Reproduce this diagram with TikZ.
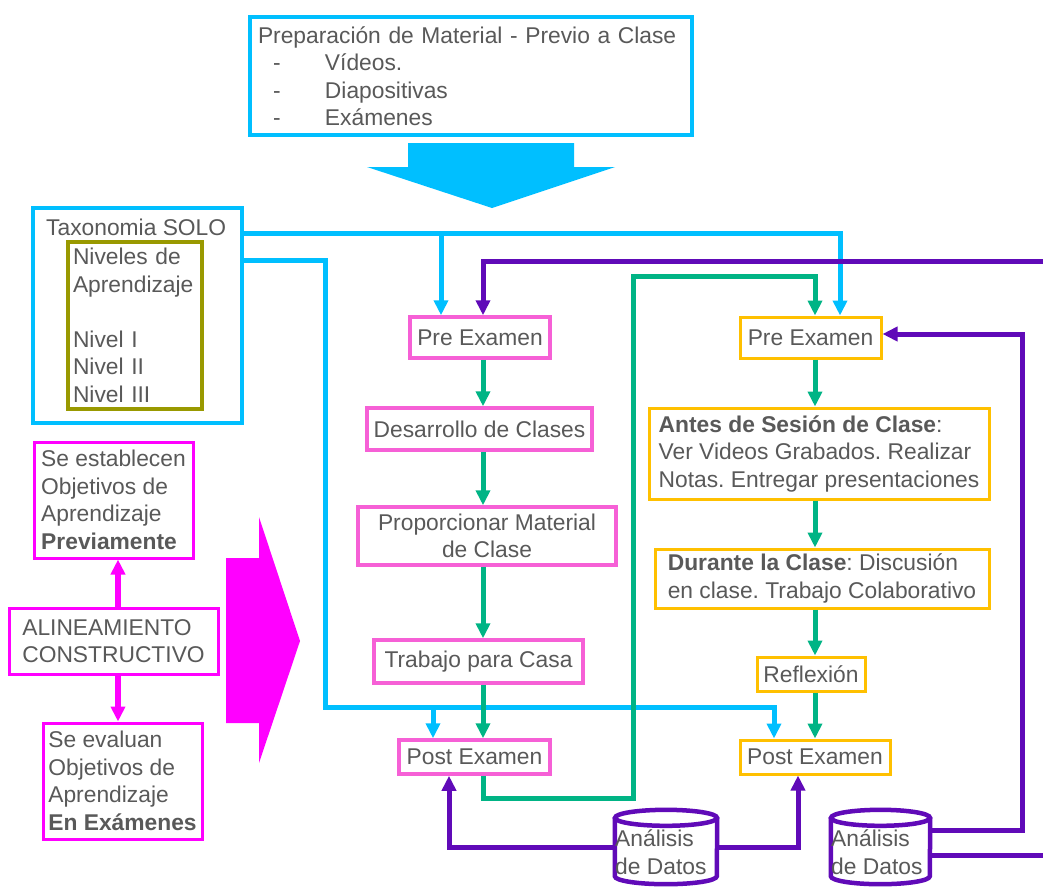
\documentclass[tikz,border=0pt]{standalone}
\usepackage{fontspec}
\setmainfont{Liberation Sans}
\usetikzlibrary{arrows.meta}
\definecolor{cy}{RGB}{0,191,255}
\definecolor{gr}{RGB}{0,180,133}
\definecolor{pu}{RGB}{96,10,184}
\definecolor{pk}{RGB}{246,96,214}
\definecolor{mg}{RGB}{255,0,255}
\definecolor{og}{RGB}{255,192,0}
\definecolor{ol}{RGB}{153,153,0}
\definecolor{tx}{RGB}{89,89,89}
\begin{document}
\frenchspacing
\begin{tikzpicture}[x=1pt,y=-1pt,
  txt/.style={font=\fontsize{22.8}{27.5}\selectfont, text=tx},
  box/.style={txt, draw, inner sep=0pt, line width=3.5pt, fill=white},
  cybox/.style={box, draw=cy, line width=4.5pt},
  pkbox/.style={box, draw=pk},
  ogbox/.style={box, draw=og, line width=3pt},
  mgbox/.style={box, draw=mg, line width=3pt},
  olbox/.style={box, draw=ol, line width=4pt},
  tip/.style={-{Triangle[width=14pt,length=15pt]}},
  cyline/.style={draw=cy, line width=5pt},
  grline/.style={draw=gr, line width=5pt},
  puline/.style={draw=pu, line width=5pt},
  cyarr/.style={cyline, tip},
  grarr/.style={grline, tip},
  puarr/.style={puline, tip},
  mgarr/.style={draw=mg, line width=6pt, tip},
  cylnode/.style={minimum width=#1, minimum height=74, inner sep=0pt}
]
\fill[white] (0,0) rectangle (1043,887);
\useasboundingbox (0,0) rectangle (1043,887);

% top box and arrow
\node[cybox, minimum width=442, minimum height=118, text width=426, align=left] (prep) at (471,76)
  {Preparación de Material - Previo a Clase\\
   \hspace*{15pt}\makebox[52pt][l]{-}Vídeos.\\
   \hspace*{15pt}\makebox[52pt][l]{-}Diapositivas\\
   \hspace*{15pt}\makebox[52pt][l]{-}Exámenes};
\fill[cy] (408,143) -- (574,143) -- (574,167) -- (615,167) -- (492,208) -- (367,167) -- (408,167) -- cycle;

% taxonomia
\node[cybox, minimum width=209, minimum height=215] (tax) at (137.5,315.5) {};
\node[txt, anchor=west, inner sep=0pt] (taxt) at (46,227) {Taxonomia SOLO};
\node[olbox, minimum width=134, minimum height=167, text width=124, align=left] (niv) at (135,325.5)
  {Niveles de\\Aprendizaje\\[27.5pt]Nivel I\\Nivel II\\Nivel III};

% left pink column
\node[pkbox, minimum width=140, minimum height=41] (preL) at (480,337.5) {Pre Examen};
\node[pkbox, minimum width=225, minimum height=42] (desa) at (479.5,429) {Desarrollo de Clases};
\node[pkbox, minimum width=258, minimum height=58, align=center] (prop) at (487,536) {Proporcionar Material\\de Clase};
\node[pkbox, minimum width=209, minimum height=43] (trab) at (478.5,661.5) {Trabajo para Casa};
\node[pkbox, minimum width=151, minimum height=34] (postL) at (474.5,757) {Post Examen};

% right orange column
\node[ogbox, minimum width=141, minimum height=41] (preR) at (810.5,337.5) {Pre Examen};
\node[ogbox, minimum width=340, minimum height=91, align=left] (antes) at (819,453.5)
  {\textbf{Antes de Sesión de Clase}:\\Ver Videos Grabados. Realizar\\Notas. Entregar presentaciones};
\node[ogbox, minimum width=334, minimum height=59, align=left] (dur) at (822,578.5)
  {\textbf{Durante la Clase}: Discusión\\en clase. Trabajo Colaborativo};
\node[ogbox, minimum width=108, minimum height=34] (refl) at (811,674) {Reflexión};
\node[ogbox, minimum width=150, minimum height=34] (postR) at (815,757) {Post Examen};

% magenta left
\node[mgbox, minimum width=159, minimum height=116, align=left] (estab) at (113.5,500)
  {Se establecen\\Objetivos de\\Aprendizaje\\\textbf{Previamente}};
\node[mgbox, minimum width=209, minimum height=66, align=left] (alin) at (113.5,641)
  {ALINEAMIENTO\\CONSTRUCTIVO};
\node[mgbox, minimum width=159, minimum height=116, align=left] (eval) at (122.5,781)
  {Se evaluan\\Objetivos de\\Aprendizaje\\\textbf{En Exámenes}};
\draw[mgarr] ([xshift=4.5pt]alin.north) -- ([xshift=4.5pt]estab.south);
\draw[mgarr] ([xshift=4.5pt]alin.south) -- ([xshift=-4.5pt]eval.north);
\fill[mg] (226,558) -- (259,558) -- (259,517) -- (300,641) -- (259,763) -- (259,723) -- (226,723) -- cycle;

% cylinders
\node[cylnode=102] (an1) at (666,847) {};
\node[cylnode=99] (an2) at (880.5,847) {};
\foreach \c/\rx in {an1/51, an2/49.5}{
  \draw[pu, line width=4.5pt] ([yshift=-8pt]\c.north west) -- ([yshift=8pt]\c.south west)
     arc[start angle=180, end angle=360, x radius=\rx pt, y radius=8pt] -- ([yshift=-8pt]\c.north east);
  \draw[pu, line width=4.5pt] ([yshift=-8pt]\c.north) ellipse[x radius=\rx pt, y radius=8pt];
}
\node[txt, anchor=west, align=left, inner sep=0pt] (an1t) at (615,852) {Análisis\\de Datos};
\node[txt, anchor=west, align=left, inner sep=0pt] (an2t) at (831,852) {Análisis\\de Datos};

% cyan connectors
\coordinate (c1) at (441,233);
\coordinate (c2) at (325,260);
\coordinate (c3) at (325,707);
\coordinate (c4) at (433,707);
\draw[cyarr] (tax.east |- c1) -| ([xshift=29.5pt]preR.north);
\draw[cyarr] (c1) -- (c1 |- preL.north);
\draw[cyarr] (tax.east |- c2) -- (c2) -- (c3) -| ([xshift=-41pt]postR.north);
\draw[cyarr] (c4) -- (c4 |- postL.north);

% green connectors
\coordinate (gL) at (483,0);
\coordinate (gR) at (815,0);
\draw[grarr] (gL |- preL.south) -- (gL |- desa.north);
\draw[grarr] (gL |- desa.south) -- (gL |- prop.north);
\draw[grarr] (gL |- prop.south) -- (gL |- trab.north);
\draw[grarr] (gL |- trab.south) -- (gL |- postL.north);
\draw[grarr] (gR |- preR.south) -- (gR |- antes.north);
\draw[grarr] (gR |- antes.south) -- (gR |- dur.north);
\draw[grarr] (gR |- dur.south) -- (gR |- refl.north);
\draw[grarr] (gR |- refl.south) -- (gR |- postR.north);
\coordinate (g1) at (633,798);
\coordinate (g2) at (633,276);
\draw[grarr] (gL |- postL.south) |- (g1) -- (g2) -| (gR |- preR.north);

% purple connectors
\coordinate (p1) at (1043,261);
\coordinate (p2) at (1022,830);
\coordinate (p3) at (1022,334);
\coordinate (p4) at (1043,855);
\draw[puarr] (p1) -| (gL |- preL.north);
\draw[puarr] (an1.west) -| ([xshift=-25.5pt]postL.south);
\draw[puarr] (an1.east) -| ([xshift=-17pt]postR.south);
\draw[puarr] (an2.east |- p2) -- (p2) -- (p3) -- (preR.east |- p3);
\draw[puline] (an2.east |- p4) -- (p4);
\end{tikzpicture}
\end{document}
